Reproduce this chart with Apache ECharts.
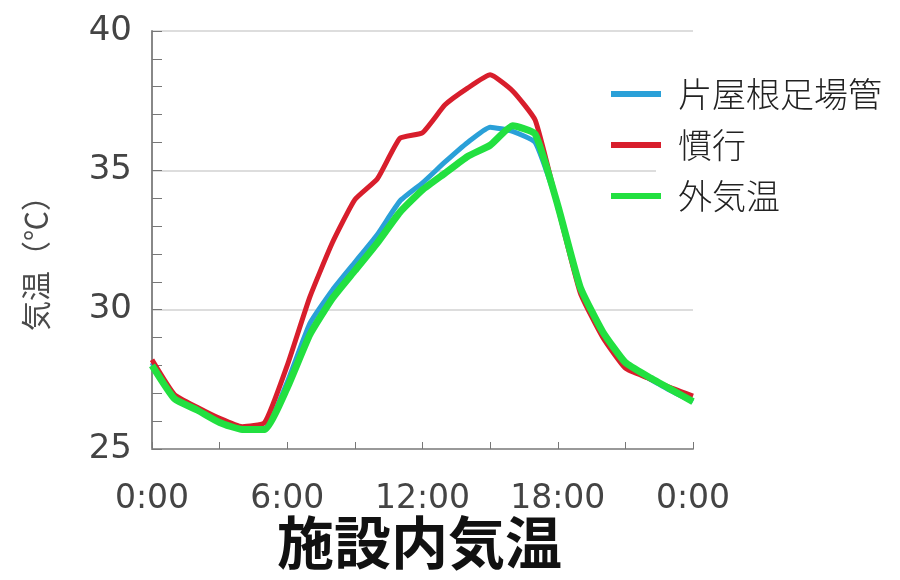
<!DOCTYPE html>
<html>
<head>
<meta charset="utf-8">
<script src="https://cdn.jsdelivr.net/npm/echarts@6/dist/echarts.min.js"></script>
<style>
html,body{margin:0;padding:0;background:#fff;}
#chart{width:900px;height:580px;}
</style>
</head>
<body>
<div id="chart"></div>
<script>
const hours = [0,1,2,3,4,5,6,7,8,9,10,11,12,13,14,15,16,17,18,19,20,21,22,23,24];
const xTickLabels = ['0:00','6:00','12:00','18:00','0:00'];
const seriesNames = ['片屋根足場管','慣行','外気温'];
const katayane = [28.1,26.85,26.45,26.0,25.75,25.75,27.4,29.5,30.7,31.7,32.7,33.9,34.55,35.3,36.0,36.55,36.4,36.0,33.75,30.7,29.1,28.0,27.55,27.1,26.7];
const kanko    = [28.2,26.95,26.5,26.1,25.8,25.95,28.0,30.45,32.4,33.95,34.7,36.15,36.35,37.35,37.95,38.43,37.85,36.8,33.7,30.6,29.0,27.9,27.55,27.2,26.9];
const gaikion  = [28.0,26.8,26.4,25.95,25.7,25.7,27.2,29.1,30.4,31.4,32.4,33.5,34.3,34.9,35.5,35.9,36.6,36.3,33.75,30.8,29.2,28.1,27.6,27.15,26.7];
const yTicks = [25,30,35,40];
const yName = '気温（℃）';
const chartTitle = '施設内気温';

const colors = ['#2aa0d8','#d81e2c','#22e040'];
const widths = [5,5,7];
const values = [katayane, kanko, gaikion];

const chart = echarts.init(document.getElementById('chart'));
chart.setOption({
  animation:false,
  backgroundColor:'#fff',
  title:{
    text:chartTitle,
    left:277, top:514,
    textStyle:{fontFamily:'Noto Sans CJK JP',fontWeight:'bold',fontSize:57,color:'#111'},
    padding:[0,0,0,0]
  },
  graphic:[
    {type:'rect',shape:{x:656,y:50,width:244,height:175},style:{fill:'#fff'},z:3},
    {type:'text',x:36,y:256,rotation:Math.PI/2,
     style:{text:yName,fontFamily:'Noto Sans CJK JP',fontSize:30,fill:'#4a4a4a',align:'center',verticalAlign:'middle'},z:5}
  ],
  legend:{
    orient:'vertical',
    left:606, top:72,
    itemWidth:50, itemHeight:6,
    itemGap:17,
    icon:'rect',
    z:10,
    textStyle:{fontFamily:'Noto Sans CJK JP',fontWeight:300,fontSize:34,color:'#222',padding:[0,0,0,12]},
    data:seriesNames
  },
  grid:{left:152,right:207,top:31,bottom:131,containLabel:false},
  xAxis:{
    type:'value',min:0,max:24,interval:3,
    axisLine:{show:true,lineStyle:{color:'#999',width:2}},
    axisTick:{show:true,inside:true,length:7,lineStyle:{color:'#777'}},
    splitLine:{show:false},
    axisLabel:{
      margin:34,
      fontFamily:'DejaVu Sans',fontSize:33,color:'#444',
      formatter:v => (v % 6 === 0 ? xTickLabels[v/6] : '')
    }
  },
  yAxis:{
    type:'value',min:25,max:40,interval:5,
    axisLine:{show:true,lineStyle:{color:'#888',width:2}},
    axisTick:{show:true,inside:true,length:10,lineStyle:{color:'#777'}},
    minorTick:{show:true,splitNumber:5,length:10,lineStyle:{color:'#777'}},
    splitLine:{show:true,lineStyle:{color:'#ddd',width:2}},
    axisLabel:{
      margin:20,
      fontFamily:'DejaVu Sans',fontSize:34,color:'#444',
      formatter:v => (yTicks.indexOf(v) >= 0 ? String(v) : '')
    }
  },
  series: seriesNames.map((n,i)=>({
    name:n,type:'line',symbol:'none',smooth:0.15,
    data: hours.map((h,j)=>[h, values[i][j]]),
    lineStyle:{color:colors[i],width:widths[i]},
    itemStyle:{color:colors[i]},
    z:2+i
  }))
});
</script>
</body>
</html>
